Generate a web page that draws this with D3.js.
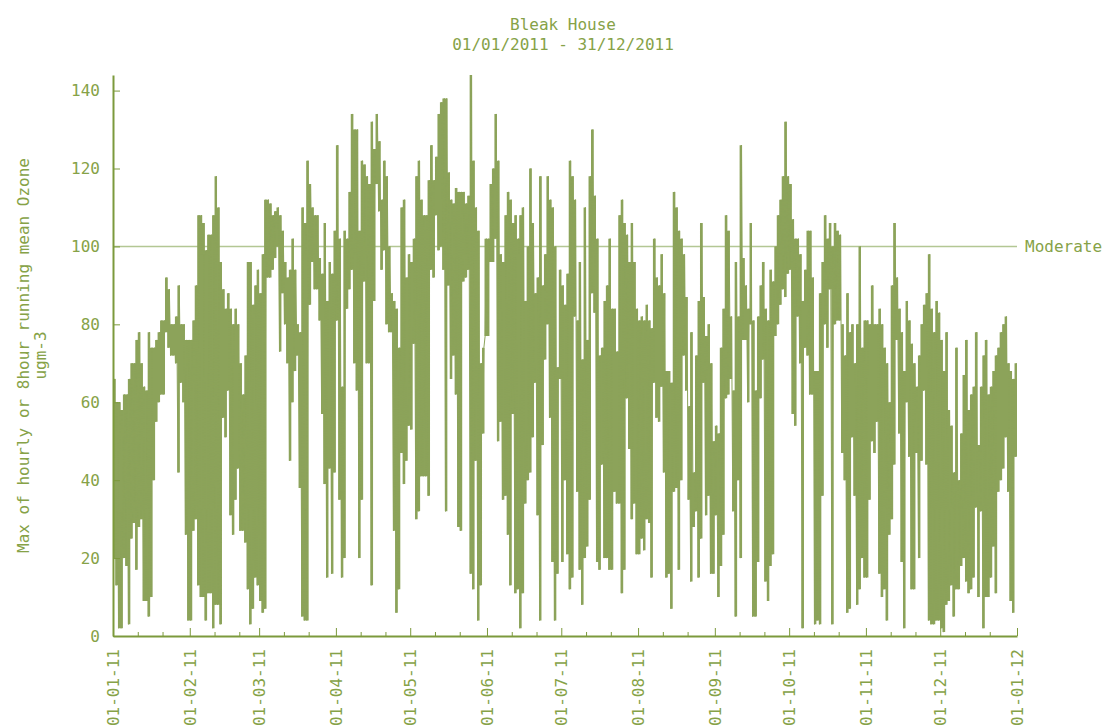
<!DOCTYPE html>
<html>

<head>
    <title>Bleak House Ozone 2011</title>
    <script src="https://cdnjs.cloudflare.com/ajax/libs/d3/7.8.5/d3.min.js"></script>
</head>

<body>
    <style>
        html,
        body {
            margin: 0;
            padding: 0;
            background-color: #ffffff;
        }

        #chart text {
            font-family: 'DejaVu Sans Mono', monospace;
            font-size: 16px;
            fill: #86a247;
        }

        .axis path,
        .axis line {
            stroke: #7c9a3c;
        }
    </style>
    <div id="chart"></div>

    <script>
        // daily [min, max] of the hourly / 8 hour running mean ozone
        const jan = [[20, 66], [13, 60], [2, 60], [2, 58], [20, 62], [18, 62], [3, 66], [25, 70], [29, 70], [17, 76],
            [28, 78], [30, 70], [9, 64], [9, 63], [5, 78], [10, 74], [40, 74], [55, 76], [60, 78], [62, 81],
            [62, 81], [78, 92], [74, 89], [72, 80], [72, 80], [70, 82], [42, 90], [65, 80], [60, 80], [26, 76], [4, 76]];
        const feb = [[4, 76], [27, 81], [30, 90], [13, 108], [10, 108], [10, 106], [4, 99], [11, 103], [11, 103], [2, 108],
            [8, 118], [8, 110], [3, 96], [56, 89], [51, 84], [63, 88], [31, 84], [26, 80], [35, 84], [43, 80],
            [27, 70], [27, 62], [24, 72], [12, 96], [3, 96], [7, 85], [15, 90], [13, 94]];
        const mar = [[9, 88], [6, 98], [7, 112], [92, 112], [92, 111], [94, 108], [97, 109], [100, 110], [73, 108], [88, 104],
            [80, 96], [70, 92], [45, 94], [60, 102], [68, 94], [72, 80], [38, 78], [5, 110], [4, 106], [4, 122],
            [85, 116], [96, 110], [89, 108], [89, 108], [81, 97], [57, 93], [39, 106], [15, 86], [43, 96], [16, 93], [42, 104]];
        const apr = [[81, 126], [35, 102], [15, 64], [20, 104], [84, 102], [89, 114], [94, 134], [70, 130], [63, 130], [20, 104],
            [35, 122], [91, 121], [70, 118], [70, 116], [13, 132], [86, 125], [116, 134], [109, 127], [94, 112], [99, 122],
            [80, 118], [78, 100], [78, 88], [27, 86], [6, 84], [12, 74], [47, 110], [39, 112], [45, 92], [54, 98]];
        const may = [[53, 96], [75, 102], [30, 118], [32, 122], [41, 112], [41, 108], [41, 108], [36, 117], [94, 126], [92, 117],
            [108, 123], [99, 134], [100, 137], [94, 138], [32, 138], [90, 119], [66, 112], [72, 111], [62, 115], [28, 114],
            [27, 114], [91, 114], [92, 111], [94, 113], [16, 144], [12, 122], [45, 110], [4, 104], [13, 70], [52, 74], [77, 102]];
        const jun = [[77, 102], [96, 116], [96, 120], [102, 134], [50, 122], [55, 98], [35, 96], [36, 108], [26, 114], [13, 112],
            [57, 106], [11, 108], [12, 102], [2, 108], [11, 110], [34, 86], [40, 100], [42, 120], [51, 106], [65, 88],
            [31, 92], [4, 118], [49, 90], [71, 98], [80, 118], [56, 112], [19, 110], [4, 100], [16, 69], [66, 94]];
        const jul = [[19, 90], [40, 85], [21, 93], [12, 122], [15, 118], [82, 112], [37, 81], [17, 96], [8, 71], [20, 110],
            [23, 76], [35, 118], [88, 130], [83, 113], [19, 102], [17, 72], [44, 74], [20, 86], [20, 90], [17, 102],
            [17, 84], [37, 84], [34, 73], [34, 108], [11, 112], [17, 106], [61, 103], [48, 96], [30, 106], [34, 96], [21, 84]];
        const aug = [[21, 81], [25, 82], [22, 81], [30, 85], [29, 81], [15, 79], [65, 102], [56, 92], [55, 90], [64, 98],
            [42, 88], [15, 68], [16, 68], [7, 65], [37, 114], [38, 110], [17, 104], [40, 102], [72, 98], [63, 87],
            [35, 59], [14, 78], [28, 42], [32, 72], [15, 86], [25, 106], [65, 87], [31, 77], [36, 80], [16, 70], [16, 50]];
        const sep = [[31, 54], [10, 52], [18, 74], [26, 84], [61, 108], [62, 104], [66, 82], [32, 63], [5, 96], [40, 82],
            [20, 126], [76, 97], [76, 90], [60, 84], [80, 106], [5, 81], [5, 63], [19, 82], [61, 90], [71, 96],
            [14, 84], [9, 81], [18, 94], [21, 91], [77, 100], [80, 108], [85, 112], [89, 118], [87, 132], [93, 118]];
        const oct = [[94, 116], [57, 107], [54, 102], [82, 102], [70, 98], [2, 86], [74, 94], [72, 104], [62, 104], [62, 92],
            [3, 68], [4, 68], [3, 88], [36, 96], [80, 108], [74, 102], [89, 106], [3, 100], [80, 106], [81, 104],
            [81, 103], [47, 80], [40, 72], [6, 88], [7, 78], [51, 80], [36, 70], [8, 80], [12, 100], [20, 74], [15, 81]];
        const nov = [[15, 81], [35, 80], [50, 90], [47, 80], [55, 80], [16, 84], [10, 80], [12, 74], [4, 70], [26, 60],
            [30, 90], [44, 106], [76, 92], [52, 84], [19, 78], [2, 68], [60, 86], [46, 81], [12, 75], [12, 70],
            [47, 64], [20, 72], [45, 80], [63, 85], [44, 88], [4, 98], [3, 84], [3, 78], [4, 86], [4, 83]];
        const dec = [[2, 76], [1, 68], [8, 78], [9, 58], [13, 54], [5, 42], [12, 74], [12, 40], [18, 52], [20, 67],
            [14, 76], [11, 58], [12, 62], [15, 64], [33, 78], [10, 49], [32, 64], [2, 72], [10, 76], [10, 62],
            [15, 64], [23, 68], [11, 72], [37, 74], [40, 78], [43, 80], [51, 82], [37, 70], [9, 68], [6, 66], [46, 70]];

        const months = [jan, feb, mar, apr, may, jun, jul, aug, sep, oct, nov, dec];
        const yTicks = [0, 20, 40, 60, 80, 100, 120, 140];
        const moderate = 100;
        const yMax = 144;

        const width = 1105;
        const height = 728;
        const plotLeft = 113, plotRight = 1017, plotTop = 75, plotBottom = 636;
        const lineColor = "#8ca35a";

        // one entry per day, plus the low / high points the hourly trace passes through
        const days = [];
        const points = [];
        months.forEach((arr, m) => {
            arr.forEach(([lo, hi], i) => {
                days.push({ t: new Date(2011, m, i + 1), lo: lo, hi: hi });
                points.push({ t: new Date(2011, m, i + 1, 6), v: lo });
                points.push({ t: new Date(2011, m, i + 1, 18), v: hi });
            });
        });
        // close the last day at the end of the axis
        const lastDay = days[days.length - 1];
        days.push({ t: new Date(2012, 0, 1), lo: lastDay.lo, hi: lastDay.hi });

        const svg = d3.select("#chart")
            .append("svg")
            .attr("width", width)
            .attr("height", height);

        const xScale = d3.scaleTime()
            .domain([new Date(2011, 0, 1), new Date(2012, 0, 1)])
            .range([plotLeft, plotRight]);

        const yScale = d3.scaleLinear()
            .domain([0, yMax])
            .range([plotBottom, plotTop]);

        // moderate band line
        svg.append("line")
            .attr("x1", plotLeft)
            .attr("x2", plotRight)
            .attr("y1", yScale(moderate))
            .attr("y2", yScale(moderate))
            .attr("stroke", "#b3c794")
            .attr("stroke-width", 1.5);

        svg.append("text")
            .attr("x", plotRight + 8)
            .attr("y", yScale(moderate))
            .attr("dy", "0.35em")
            .text("Moderate");

        // the hourly trace is so dense that each day reads as a filled column
        const band = d3.area()
            .x(d => xScale(d.t))
            .y0(d => yScale(d.lo))
            .y1(d => yScale(d.hi))
            .curve(d3.curveStepAfter);

        svg.append("path")
            .datum(days)
            .attr("fill", lineColor)
            .attr("d", band);

        const line = d3.line()
            .x(d => xScale(d.t))
            .y(d => yScale(d.v));

        svg.append("path")
            .datum(points)
            .attr("fill", "none")
            .attr("stroke", lineColor)
            .attr("stroke-width", 1)
            .attr("d", line);

        // x axis: months with minor ticks on the 11th and 21st
        const monthStarts = d3.timeMonth.range(new Date(2011, 0, 1), new Date(2012, 0, 2));
        const minorDays = [];
        monthStarts.slice(0, 12).forEach(m => {
            minorDays.push(new Date(2011, m.getMonth(), 11), new Date(2011, m.getMonth(), 21));
        });

        svg.append("g")
            .attr("class", "axis")
            .attr("transform", `translate(0,${plotBottom})`)
            .call(d3.axisBottom(xScale).tickValues(minorDays).tickSize(-4).tickFormat(""))
            .call(g => g.select(".domain").remove());

        const xAxis = svg.append("g")
            .attr("class", "axis")
            .attr("transform", `translate(0,${plotBottom})`)
            .call(d3.axisBottom(xScale)
                .tickValues(monthStarts)
                .tickSizeInner(-8)
                .tickSizeOuter(0)
                .tickFormat(d3.timeFormat("%d-%m-%y")));

        xAxis.select(".domain").attr("stroke-width", 2);
        xAxis.selectAll("text")
            .attr("transform", "rotate(-90)")
            .attr("x", -13)
            .attr("y", 0)
            .attr("dy", "0.35em")
            .attr("text-anchor", "end");

        const yAxis = svg.append("g")
            .attr("class", "axis")
            .attr("transform", `translate(${plotLeft},0)`)
            .call(d3.axisLeft(yScale)
                .tickValues(yTicks)
                .tickSizeInner(-7)
                .tickSizeOuter(0)
                .tickPadding(13));

        yAxis.select(".domain").attr("stroke-width", 2);
        svg.selectAll(".axis").attr("font-size", null).attr("font-family", null);

        // titles
        svg.append("text")
            .attr("x", 563)
            .attr("y", 30)
            .attr("text-anchor", "middle")
            .text("Bleak House");

        svg.append("text")
            .attr("x", 563)
            .attr("y", 50)
            .attr("text-anchor", "middle")
            .text("01/01/2011 - 31/12/2011");

        const yLabel = svg.append("text")
            .attr("transform", `translate(29,${(plotTop + plotBottom) / 2}) rotate(-90)`)
            .attr("text-anchor", "middle");

        yLabel.append("tspan")
            .attr("x", 0)
            .text("Max of hourly or 8hour running mean Ozone");

        yLabel.append("tspan")
            .attr("x", 0)
            .attr("dy", 17)
            .text("ugm-3");
    </script>
</body>

</html>
